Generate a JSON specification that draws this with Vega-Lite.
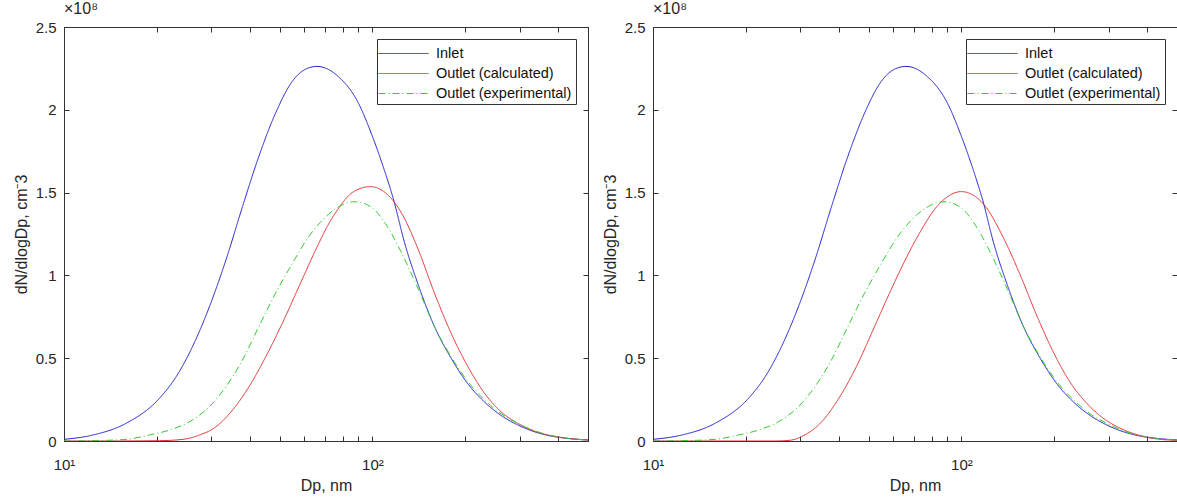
{
  "$schema": "https://vega.github.io/schema/vega-lite/v6.json",
  "background": "white",
  "padding": {"left": 12, "top": 0, "right": 0, "bottom": 0},
  "autosize": {"type": "pad"},
  "bounds": "flush",
  "spacing": 65,
  "config": {
    "view": {"stroke": "#333333", "strokeWidth": 1},
    "font": "Liberation Sans",
    "axis": {
      "domainColor": "#333333", "tickColor": "#333333", "labelColor": "#262626", "titleColor": "#262626",
      "labelFont": "Liberation Sans", "titleFont": "Liberation Sans", "labelFontSize": 15, "titleFontSize": 16,
      "titleFontWeight": "normal", "grid": false, "tickSize": -5, "domainWidth": 1, "tickWidth": 1,
      "labelFlush": false, "labelOverlap": false
    },
    "legend": {
      "title": null, "orient": "top-right", "offset": 12, "strokeColor": "#333333", "fillColor": "white",
      "padding": 4, "symbolType": "M-2.5,0H2.5", "symbolSize": 400, "symbolStrokeWidth": 1, "symbolOffset": 12,
      "labelFontSize": 14.5, "labelFont": "Liberation Sans", "labelColor": "#111111", "rowPadding": 3,
      "labelOffset": 22, "cornerRadius": 0, "labelLimit": 300
    }
  },
  "datasets": {
    "left": [
      {"series": "Inlet", "Dp": 10, "v": 0.01e8}, {"series": "Inlet", "Dp": 12.4, "v": 0.036e8}, {"series": "Inlet", "Dp": 15.9, "v": 0.107e8},
      {"series": "Inlet", "Dp": 20.4, "v": 0.258e8}, {"series": "Inlet", "Dp": 23.1, "v": 0.388e8}, {"series": "Inlet", "Dp": 26.1, "v": 0.57e8},
      {"series": "Inlet", "Dp": 29.6, "v": 0.81e8}, {"series": "Inlet", "Dp": 33.5, "v": 1.093e8}, {"series": "Inlet", "Dp": 37.9, "v": 1.415e8},
      {"series": "Inlet", "Dp": 42.8, "v": 1.717e8}, {"series": "Inlet", "Dp": 48.5, "v": 1.979e8}, {"series": "Inlet", "Dp": 54.9, "v": 2.17e8},
      {"series": "Inlet", "Dp": 60, "v": 2.24e8}, {"series": "Inlet", "Dp": 66.1, "v": 2.262e8}, {"series": "Inlet", "Dp": 77.6, "v": 2.2e8},
      {"series": "Inlet", "Dp": 90.1, "v": 2.04e8}, {"series": "Inlet", "Dp": 99.5, "v": 1.85e8}, {"series": "Inlet", "Dp": 110, "v": 1.62e8},
      {"series": "Inlet", "Dp": 117, "v": 1.46e8}, {"series": "Inlet", "Dp": 127, "v": 1.2e8}, {"series": "Inlet", "Dp": 141, "v": 0.94e8},
      {"series": "Inlet", "Dp": 159, "v": 0.69e8}, {"series": "Inlet", "Dp": 180, "v": 0.5e8}, {"series": "Inlet", "Dp": 204, "v": 0.345e8},
      {"series": "Inlet", "Dp": 231, "v": 0.235e8}, {"series": "Inlet", "Dp": 261, "v": 0.155e8}, {"series": "Inlet", "Dp": 296, "v": 0.097e8},
      {"series": "Inlet", "Dp": 335, "v": 0.056e8}, {"series": "Inlet", "Dp": 379, "v": 0.03e8}, {"series": "Inlet", "Dp": 429, "v": 0.016e8},
      {"series": "Inlet", "Dp": 500, "v": 0.006e8},
      {"series": "Outlet (calculated)", "Dp": 10, "v": 0}, {"series": "Outlet (calculated)", "Dp": 15, "v": 0}, {"series": "Outlet (calculated)", "Dp": 20.4, "v": 0.002e8},
      {"series": "Outlet (calculated)", "Dp": 24.3, "v": 0.01e8}, {"series": "Outlet (calculated)", "Dp": 27.5, "v": 0.036e8}, {"series": "Outlet (calculated)", "Dp": 31.1, "v": 0.086e8},
      {"series": "Outlet (calculated)", "Dp": 35.2, "v": 0.187e8}, {"series": "Outlet (calculated)", "Dp": 39.8, "v": 0.328e8}, {"series": "Outlet (calculated)", "Dp": 45.1, "v": 0.509e8},
      {"series": "Outlet (calculated)", "Dp": 51, "v": 0.71e8}, {"series": "Outlet (calculated)", "Dp": 57.7, "v": 0.93e8}, {"series": "Outlet (calculated)", "Dp": 65.3, "v": 1.15e8},
      {"series": "Outlet (calculated)", "Dp": 72.1, "v": 1.31e8}, {"series": "Outlet (calculated)", "Dp": 78, "v": 1.41e8}, {"series": "Outlet (calculated)", "Dp": 86, "v": 1.5e8},
      {"series": "Outlet (calculated)", "Dp": 98.4, "v": 1.536e8}, {"series": "Outlet (calculated)", "Dp": 110, "v": 1.5e8}, {"series": "Outlet (calculated)", "Dp": 124.4, "v": 1.375e8},
      {"series": "Outlet (calculated)", "Dp": 141, "v": 1.153e8}, {"series": "Outlet (calculated)", "Dp": 159, "v": 0.892e8}, {"series": "Outlet (calculated)", "Dp": 180, "v": 0.65e8},
      {"series": "Outlet (calculated)", "Dp": 204, "v": 0.449e8}, {"series": "Outlet (calculated)", "Dp": 231, "v": 0.288e8}, {"series": "Outlet (calculated)", "Dp": 261, "v": 0.177e8},
      {"series": "Outlet (calculated)", "Dp": 296, "v": 0.107e8}, {"series": "Outlet (calculated)", "Dp": 335, "v": 0.06e8}, {"series": "Outlet (calculated)", "Dp": 379, "v": 0.032e8},
      {"series": "Outlet (calculated)", "Dp": 429, "v": 0.016e8}, {"series": "Outlet (calculated)", "Dp": 500, "v": 0.006e8},
      {"series": "Outlet (experimental)", "Dp": 10, "v": 0}, {"series": "Outlet (experimental)", "Dp": 12.4, "v": 0.002e8}, {"series": "Outlet (experimental)", "Dp": 15.9, "v": 0.01e8},
      {"series": "Outlet (experimental)", "Dp": 18.9, "v": 0.036e8}, {"series": "Outlet (experimental)", "Dp": 22, "v": 0.066e8}, {"series": "Outlet (experimental)", "Dp": 26.1, "v": 0.127e8},
      {"series": "Outlet (experimental)", "Dp": 29.6, "v": 0.207e8}, {"series": "Outlet (experimental)", "Dp": 33.5, "v": 0.328e8}, {"series": "Outlet (experimental)", "Dp": 37.9, "v": 0.489e8},
      {"series": "Outlet (experimental)", "Dp": 42.8, "v": 0.69e8}, {"series": "Outlet (experimental)", "Dp": 48.5, "v": 0.892e8}, {"series": "Outlet (experimental)", "Dp": 54.9, "v": 1.07e8},
      {"series": "Outlet (experimental)", "Dp": 62.2, "v": 1.235e8}, {"series": "Outlet (experimental)", "Dp": 67, "v": 1.31e8}, {"series": "Outlet (experimental)", "Dp": 72.1, "v": 1.37e8},
      {"series": "Outlet (experimental)", "Dp": 77, "v": 1.41e8}, {"series": "Outlet (experimental)", "Dp": 87.9, "v": 1.445e8}, {"series": "Outlet (experimental)", "Dp": 99.5, "v": 1.41e8},
      {"series": "Outlet (experimental)", "Dp": 110, "v": 1.315e8}, {"series": "Outlet (experimental)", "Dp": 124, "v": 1.14e8}, {"series": "Outlet (experimental)", "Dp": 141, "v": 0.915e8},
      {"series": "Outlet (experimental)", "Dp": 159, "v": 0.69e8}, {"series": "Outlet (experimental)", "Dp": 180, "v": 0.509e8}, {"series": "Outlet (experimental)", "Dp": 204, "v": 0.358e8},
      {"series": "Outlet (experimental)", "Dp": 231, "v": 0.248e8}, {"series": "Outlet (experimental)", "Dp": 261, "v": 0.165e8}, {"series": "Outlet (experimental)", "Dp": 296, "v": 0.107e8},
      {"series": "Outlet (experimental)", "Dp": 335, "v": 0.062e8}, {"series": "Outlet (experimental)", "Dp": 379, "v": 0.034e8}, {"series": "Outlet (experimental)", "Dp": 429, "v": 0.016e8},
      {"series": "Outlet (experimental)", "Dp": 500, "v": 0.006e8}
    ],
    "right": [
      {"series": "Inlet", "Dp": 10, "v": 0.01e8}, {"series": "Inlet", "Dp": 12.4, "v": 0.036e8}, {"series": "Inlet", "Dp": 15.9, "v": 0.107e8},
      {"series": "Inlet", "Dp": 20.4, "v": 0.258e8}, {"series": "Inlet", "Dp": 23.1, "v": 0.388e8}, {"series": "Inlet", "Dp": 26.1, "v": 0.57e8},
      {"series": "Inlet", "Dp": 29.6, "v": 0.81e8}, {"series": "Inlet", "Dp": 33.5, "v": 1.093e8}, {"series": "Inlet", "Dp": 37.9, "v": 1.415e8},
      {"series": "Inlet", "Dp": 42.8, "v": 1.717e8}, {"series": "Inlet", "Dp": 48.5, "v": 1.979e8}, {"series": "Inlet", "Dp": 54.9, "v": 2.17e8},
      {"series": "Inlet", "Dp": 60, "v": 2.24e8}, {"series": "Inlet", "Dp": 66.1, "v": 2.262e8}, {"series": "Inlet", "Dp": 77.6, "v": 2.2e8},
      {"series": "Inlet", "Dp": 90.1, "v": 2.04e8}, {"series": "Inlet", "Dp": 99.5, "v": 1.85e8}, {"series": "Inlet", "Dp": 110, "v": 1.62e8},
      {"series": "Inlet", "Dp": 117, "v": 1.46e8}, {"series": "Inlet", "Dp": 127, "v": 1.2e8}, {"series": "Inlet", "Dp": 141, "v": 0.94e8},
      {"series": "Inlet", "Dp": 159, "v": 0.69e8}, {"series": "Inlet", "Dp": 180, "v": 0.5e8}, {"series": "Inlet", "Dp": 204, "v": 0.345e8},
      {"series": "Inlet", "Dp": 231, "v": 0.235e8}, {"series": "Inlet", "Dp": 261, "v": 0.155e8}, {"series": "Inlet", "Dp": 296, "v": 0.097e8},
      {"series": "Inlet", "Dp": 335, "v": 0.056e8}, {"series": "Inlet", "Dp": 379, "v": 0.03e8}, {"series": "Inlet", "Dp": 429, "v": 0.016e8},
      {"series": "Inlet", "Dp": 500, "v": 0.006e8},
      {"series": "Outlet (calculated)", "Dp": 10, "v": 0}, {"series": "Outlet (calculated)", "Dp": 20, "v": 0}, {"series": "Outlet (calculated)", "Dp": 25, "v": 0},
      {"series": "Outlet (calculated)", "Dp": 27.7, "v": 0.004e8}, {"series": "Outlet (calculated)", "Dp": 31.3, "v": 0.04e8}, {"series": "Outlet (calculated)", "Dp": 35.4, "v": 0.12e8},
      {"series": "Outlet (calculated)", "Dp": 40.1, "v": 0.26e8}, {"series": "Outlet (calculated)", "Dp": 45.4, "v": 0.44e8}, {"series": "Outlet (calculated)", "Dp": 51.4, "v": 0.66e8},
      {"series": "Outlet (calculated)", "Dp": 58.2, "v": 0.885e8}, {"series": "Outlet (calculated)", "Dp": 65.4, "v": 1.085e8}, {"series": "Outlet (calculated)", "Dp": 72.6, "v": 1.245e8},
      {"series": "Outlet (calculated)", "Dp": 83.2, "v": 1.415e8}, {"series": "Outlet (calculated)", "Dp": 100, "v": 1.506e8}, {"series": "Outlet (calculated)", "Dp": 118, "v": 1.43e8},
      {"series": "Outlet (calculated)", "Dp": 137, "v": 1.225e8}, {"series": "Outlet (calculated)", "Dp": 155, "v": 1.004e8}, {"series": "Outlet (calculated)", "Dp": 175, "v": 0.763e8},
      {"series": "Outlet (calculated)", "Dp": 198, "v": 0.542e8}, {"series": "Outlet (calculated)", "Dp": 224, "v": 0.361e8}, {"series": "Outlet (calculated)", "Dp": 254, "v": 0.231e8},
      {"series": "Outlet (calculated)", "Dp": 287, "v": 0.14e8}, {"series": "Outlet (calculated)", "Dp": 325, "v": 0.08e8}, {"series": "Outlet (calculated)", "Dp": 368, "v": 0.04e8},
      {"series": "Outlet (calculated)", "Dp": 417, "v": 0.016e8}, {"series": "Outlet (calculated)", "Dp": 470, "v": 0.006e8}, {"series": "Outlet (calculated)", "Dp": 500, "v": 0.004e8},
      {"series": "Outlet (experimental)", "Dp": 10, "v": 0}, {"series": "Outlet (experimental)", "Dp": 12.4, "v": 0.002e8}, {"series": "Outlet (experimental)", "Dp": 15.9, "v": 0.01e8},
      {"series": "Outlet (experimental)", "Dp": 18.9, "v": 0.036e8}, {"series": "Outlet (experimental)", "Dp": 22, "v": 0.066e8}, {"series": "Outlet (experimental)", "Dp": 26.1, "v": 0.127e8},
      {"series": "Outlet (experimental)", "Dp": 29.6, "v": 0.207e8}, {"series": "Outlet (experimental)", "Dp": 33.5, "v": 0.328e8}, {"series": "Outlet (experimental)", "Dp": 37.9, "v": 0.489e8},
      {"series": "Outlet (experimental)", "Dp": 42.8, "v": 0.69e8}, {"series": "Outlet (experimental)", "Dp": 48.5, "v": 0.892e8}, {"series": "Outlet (experimental)", "Dp": 54.9, "v": 1.07e8},
      {"series": "Outlet (experimental)", "Dp": 62.2, "v": 1.235e8}, {"series": "Outlet (experimental)", "Dp": 67, "v": 1.31e8}, {"series": "Outlet (experimental)", "Dp": 72.1, "v": 1.37e8},
      {"series": "Outlet (experimental)", "Dp": 77, "v": 1.41e8}, {"series": "Outlet (experimental)", "Dp": 87.9, "v": 1.445e8}, {"series": "Outlet (experimental)", "Dp": 99.5, "v": 1.41e8},
      {"series": "Outlet (experimental)", "Dp": 110, "v": 1.315e8}, {"series": "Outlet (experimental)", "Dp": 124, "v": 1.14e8}, {"series": "Outlet (experimental)", "Dp": 141, "v": 0.915e8},
      {"series": "Outlet (experimental)", "Dp": 159, "v": 0.69e8}, {"series": "Outlet (experimental)", "Dp": 180, "v": 0.509e8}, {"series": "Outlet (experimental)", "Dp": 204, "v": 0.358e8},
      {"series": "Outlet (experimental)", "Dp": 231, "v": 0.248e8}, {"series": "Outlet (experimental)", "Dp": 261, "v": 0.165e8}, {"series": "Outlet (experimental)", "Dp": 296, "v": 0.107e8},
      {"series": "Outlet (experimental)", "Dp": 335, "v": 0.062e8}, {"series": "Outlet (experimental)", "Dp": 379, "v": 0.034e8}, {"series": "Outlet (experimental)", "Dp": 429, "v": 0.016e8},
      {"series": "Outlet (experimental)", "Dp": 500, "v": 0.006e8}
    ]
  },
  "hconcat": [
    {
      "width": 524, "height": 414,
      "title": {"text": "×10⁸", "fontSize": 16, "fontWeight": "normal", "font": "Liberation Sans", "color": "#262626", "anchor": "start", "frame": "group", "offset": 3},
      "data": {"name": "left"},
      "layer": [
        {
          "mark": {"type": "line", "interpolate": "monotone", "strokeWidth": 1, "clip": true},
          "encoding": {
            "x": {"field": "Dp", "type": "quantitative", "scale": {"type": "log", "domain": [10, 500], "nice": false},
              "axis": {"orient": "bottom", "values": [10, 20, 30, 40, 50, 60, 70, 80, 90, 100, 200, 300, 400],
                "labelExpr": "datum.value == 10 ? '10¹' : (datum.value == 100 ? '10²' : '')", "labelPadding": 21,
                "title": "Dp, nm", "titlePadding": 5}},
            "y": {"field": "v", "type": "quantitative", "scale": {"domain": [0, 250000000], "nice": false},
              "axis": {"orient": "left", "values": [0, 50000000, 100000000, 150000000, 200000000, 250000000],
                "labelExpr": "datum.value / 100000000", "labelPadding": 13, "title": "dN/dlogDp, cm⁻3", "titlePadding": 6}},
            "color": {"field": "series", "type": "nominal",
              "scale": {"domain": ["Inlet", "Outlet (calculated)", "Outlet (experimental)"], "range": ["#2222cc", "#e03030", "#33cc33"]}},
            "strokeDash": {"field": "series", "type": "nominal",
              "scale": {"domain": ["Inlet", "Outlet (calculated)", "Outlet (experimental)"], "range": [[1, 0], [1, 0], [7, 3, 1, 3]]}}
          }
        },
        {
          "mark": {"type": "line", "opacity": 0},
          "encoding": {
            "x": {"field": "Dp", "type": "quantitative",
              "axis": {"orient": "top", "values": [10, 20, 30, 40, 50, 60, 70, 80, 90, 100, 200, 300, 400], "labels": false, "title": null}},
            "y": {"field": "v", "type": "quantitative",
              "axis": {"orient": "right", "values": [0, 50000000, 100000000, 150000000, 200000000, 250000000], "labels": false, "title": null}},
            "detail": {"field": "series"}
          }
        }
      ],
      "resolve": {"axis": {"x": "independent", "y": "independent"}}
    },
    {
      "width": 524, "height": 414,
      "title": {"text": "×10⁸", "fontSize": 16, "fontWeight": "normal", "font": "Liberation Sans", "color": "#262626", "anchor": "start", "frame": "group", "offset": 3},
      "data": {"name": "right"},
      "layer": [
        {
          "mark": {"type": "line", "interpolate": "monotone", "strokeWidth": 1, "clip": true},
          "encoding": {
            "x": {"field": "Dp", "type": "quantitative", "scale": {"type": "log", "domain": [10, 500], "nice": false},
              "axis": {"orient": "bottom", "values": [10, 20, 30, 40, 50, 60, 70, 80, 90, 100, 200, 300, 400],
                "labelExpr": "datum.value == 10 ? '10¹' : (datum.value == 100 ? '10²' : '')", "labelPadding": 21,
                "title": "Dp, nm", "titlePadding": 5}},
            "y": {"field": "v", "type": "quantitative", "scale": {"domain": [0, 250000000], "nice": false},
              "axis": {"orient": "left", "values": [0, 50000000, 100000000, 150000000, 200000000, 250000000],
                "labelExpr": "datum.value / 100000000", "labelPadding": 13, "title": "dN/dlogDp, cm⁻3", "titlePadding": 6}},
            "color": {"field": "series", "type": "nominal",
              "scale": {"domain": ["Inlet", "Outlet (calculated)", "Outlet (experimental)"], "range": ["#2222cc", "#e03030", "#33cc33"]}},
            "strokeDash": {"field": "series", "type": "nominal",
              "scale": {"domain": ["Inlet", "Outlet (calculated)", "Outlet (experimental)"], "range": [[1, 0], [1, 0], [7, 3, 1, 3]]}}
          }
        },
        {
          "mark": {"type": "line", "opacity": 0},
          "encoding": {
            "x": {"field": "Dp", "type": "quantitative",
              "axis": {"orient": "top", "values": [10, 20, 30, 40, 50, 60, 70, 80, 90, 100, 200, 300, 400], "labels": false, "title": null}},
            "y": {"field": "v", "type": "quantitative",
              "axis": {"orient": "right", "values": [0, 50000000, 100000000, 150000000, 200000000, 250000000], "labels": false, "title": null}},
            "detail": {"field": "series"}
          }
        }
      ],
      "resolve": {"axis": {"x": "independent", "y": "independent"}}
    }
  ],
  "resolve": {
    "scale": {"color": "independent", "strokeDash": "independent"},
    "legend": {"color": "independent", "strokeDash": "independent"}
  }
}
